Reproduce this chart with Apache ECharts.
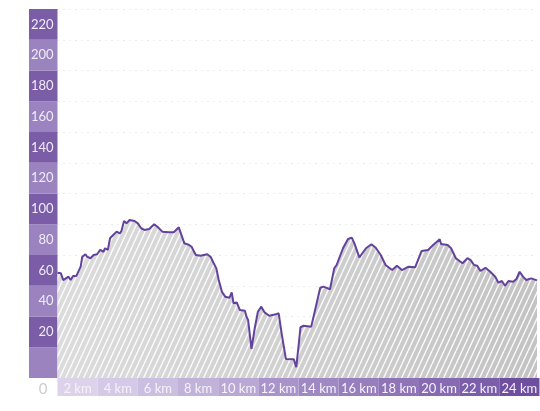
<!DOCTYPE html>
<html>
<head>
<meta charset="utf-8">
<script src="https://cdn.jsdelivr.net/npm/echarts@6/dist/echarts.min.js"></script>
<style>
  html, body { margin: 0; padding: 0; background: #fff; }
  #profile { width: 540px; height: 411px; }
</style>
</head>
<body>
<div id="profile"></div>
<script>
var dom = document.getElementById('profile');
var myChart = echarts.init(dom);

// distance along the route (km) and elevation (m)
var distanceKm = [
  0, 0.17, 0.29, 0.42, 0.55, 0.66, 0.78, 0.94, 1.16, 1.24, 1.40, 1.48, 1.56, 1.65, 1.81, 1.98,
  2.14, 2.30, 2.38, 2.52, 2.63, 2.79, 2.96, 3.12, 3.20, 3.33, 3.45, 3.61, 3.86, 4.02, 4.19, 4.35,
  4.59, 4.84, 5.00, 5.25, 5.58, 5.82, 6.07, 6.15, 6.35, 6.59, 6.71, 6.92, 7.16, 7.49, 7.66, 7.82,
  7.95, 8.07, 8.23, 8.39, 8.61, 8.72, 8.81, 8.88, 8.97, 9.13, 9.38, 9.46, 9.54, 9.71, 9.87, 10.03,
  10.20, 10.36, 10.60, 10.93, 11.07, 11.23, 11.43, 11.83, 11.95, 12.08, 12.16, 12.32, 12.70, 13.15,
  13.31, 13.64, 13.85, 13.97, 14.29, 14.54, 14.73, 14.86, 15.11, 15.44, 15.71, 15.93, 16.18, 16.42,
  16.75, 16.99, 17.24, 17.57, 17.90, 17.98, 18.22, 18.55, 18.80, 19.13, 19.20, 19.53, 19.70, 19.94,
  20.27, 20.52, 20.68, 20.85, 21.01, 21.17, 21.42, 21.66, 21.74, 21.91, 22.07, 22.24, 22.40, 22.57,
  22.81, 22.97, 23.13, 23.30, 23.46, 23.71, 24
];
var elevation = [
  68.5, 68.1, 63.7, 64.8, 65.9, 63.7, 66.3, 66.3, 72.4, 78.9, 80.5, 78.9, 80.0, 77.9, 80.0, 80.5,
  83.3, 82.1, 84.4, 83.3, 90.9, 93.0, 95.2, 94.1, 95.6, 102.1, 100.6, 102.8, 102.1, 100.6, 97.4, 96.3,
  96.9, 100.0, 98.4, 95.2, 94.8, 94.8, 98.0, 97.4, 87.6, 86.5, 85.4, 80.0, 79.5, 80.5, 78.9, 74.6,
  71.3, 63.7, 56.1, 52.9, 52.2, 55.7, 48.6, 49.6, 49.2, 44.2, 43.8, 39.9, 37.7, 18.9, 32.3, 43.1,
  46.4, 42.7, 40.5, 41.4, 42.1, 28.0, 12.4, 12.2, 7.0, 22.6, 33.0, 34.0, 33.4, 58.7,
  59.4, 57.7, 71.3, 73.5, 84.4, 90.4, 91.3, 87.6, 78.5, 84.4, 87.0, 84.7, 80.0, 73.5,
  70.2, 73.0, 70.2, 72.4, 72.0, 72.0, 82.6, 83.3, 86.5, 90.2, 87.2, 86.5, 84.4, 77.9,
  74.6, 77.9, 76.7, 73.5, 73.0, 69.6, 71.7, 69.1, 68.5, 65.9, 62.0, 63.1, 60.0, 63.1,
  62.6, 64.4, 69.1, 65.9, 63.7, 64.8, 63.5
];

// band labels
var elevationLabels = ['', '20', '40', '60', '80', '100', '120', '140', '160', '180', '200', '220'];
var distanceLabels = ['2 km', '4 km', '6 km', '8 km', '10 km', '12 km', '14 km', '16 km', '18 km', '20 km', '22 km', '24 km'];

var elevationBandColors = ['#9b83c0', '#7b5ca7'];
var distanceBandColors = ['#dcd3eb', '#d4c9e6', '#cbbfe1', '#c1b2da', '#b9a8d4', '#a894ca',
  '#9f89c3', '#977ebd', '#8f75b8', '#866bb3', '#7a5ea9', '#6d4e9f'];

var profileData = distanceKm.map(function (d, i) { return [d, elevation[i]]; });

// white diagonal hatching
function makeHatch() {
  var w = 6, h = 13;
  var c = document.createElement('canvas');
  c.width = w; c.height = h;
  var ctx = c.getContext('2d');
  ctx.strokeStyle = 'rgba(255,255,255,0.9)';
  ctx.lineWidth = 1.4;
  for (var k = -1; k <= 1; k++) {
    ctx.beginPath();
    ctx.moveTo(k * w, h);
    ctx.lineTo(k * w + w, 0);
    ctx.stroke();
  }
  return c;
}

var option = {
  animation: false,
  textStyle: { fontFamily: 'Lato' },
  grid: [
    { left: 57.5, top: 9, width: 488, height: 369 },
    { left: 29, top: 9, width: 28.5, height: 369 },
    { left: 57.5, top: 378, width: 488, height: 18 }
  ],
  xAxis: [
    {
      gridIndex: 0, type: 'value', min: 0, max: 24,
      axisLine: { show: false }, axisTick: { show: false }, splitLine: { show: false },
      axisLabel: {
        margin: 4, fontSize: 15, color: '#cccccc', align: 'right', padding: [0, 10, 0, 0],
        formatter: function (v) { return v === 0 ? '0' : ''; }
      }
    },
    { gridIndex: 1, type: 'value', show: false },
    {
      gridIndex: 2, type: 'category', position: 'top', data: distanceLabels, boundaryGap: true,
      axisLine: { show: false }, axisTick: { show: false },
      axisLabel: { inside: true, interval: 0, margin: 4, fontSize: 13, color: '#f6f2fb', verticalAlign: 'top' },
      splitArea: { show: true, interval: 0, areaStyle: { color: distanceBandColors } }
    }
  ],
  yAxis: [
    {
      gridIndex: 0, type: 'value', min: 0, max: 240, interval: 20,
      axisLine: { show: false }, axisTick: { show: false }, axisLabel: { show: false },
      splitLine: { lineStyle: { color: '#d9d9d9', type: [1, 5] } }
    },
    {
      gridIndex: 1, type: 'category', position: 'right', data: elevationLabels, boundaryGap: true,
      axisLine: { show: false }, axisTick: { show: false },
      axisLabel: { inside: true, interval: 0, margin: 4, fontSize: 13, color: '#f0ecf6', align: 'right' },
      splitArea: { show: true, interval: 0, areaStyle: { color: elevationBandColors } }
    },
    { gridIndex: 2, type: 'value', show: false }
  ],
  series: [
    {
      type: 'line', xAxisIndex: 0, yAxisIndex: 0, data: profileData,
      symbol: 'none', silent: true, z: 2,
      lineStyle: { width: 0, opacity: 0 },
      areaStyle: {
        opacity: 1,
        color: new echarts.graphic.LinearGradient(0, 0, 1, 0, [
          { offset: 0, color: '#dcdcdc' },
          { offset: 1, color: '#c3c3c3' }
        ])
      }
    },
    {
      type: 'line', xAxisIndex: 0, yAxisIndex: 0, data: profileData,
      symbol: 'none', silent: true, z: 3,
      lineStyle: { width: 2, color: '#62429c' },
      areaStyle: { opacity: 1, color: { image: makeHatch(), repeat: 'repeat' } }
    }
  ]
};

if (option && typeof option === 'object') {
    myChart.setOption(option);
}
</script>
</body>
</html>
